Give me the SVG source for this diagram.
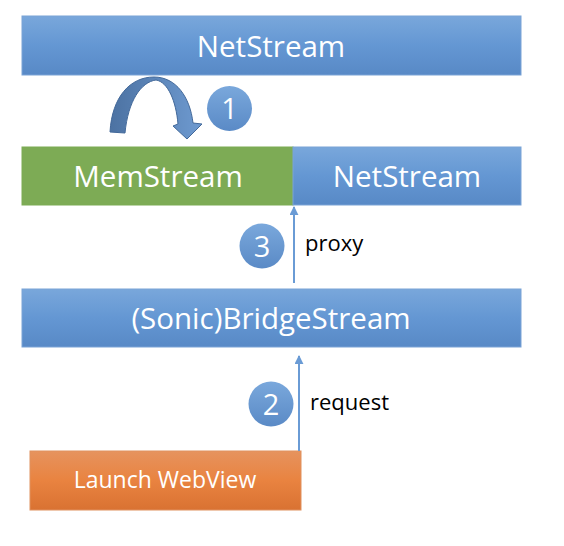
<svg xmlns="http://www.w3.org/2000/svg" width="564" height="546" viewBox="0 0 564 546">
<defs>
<linearGradient id="gBlue" x1="0" y1="0" x2="0" y2="1"><stop offset="0" stop-color="#79a7db"/><stop offset="0.5" stop-color="#6497d3"/><stop offset="1" stop-color="#5889c6"/></linearGradient>
<linearGradient id="gOrange" x1="0" y1="0" x2="0" y2="1"><stop offset="0" stop-color="#e6935e"/><stop offset="0.5" stop-color="#e98340"/><stop offset="1" stop-color="#d97232"/></linearGradient>
<linearGradient id="gCircle" x1="0" y1="0" x2="0" y2="1"><stop offset="0" stop-color="#7aa8dc"/><stop offset="1" stop-color="#5a8ac6"/></linearGradient>
<linearGradient id="gArc" x1="0" y1="0" x2="1" y2="0"><stop offset="0" stop-color="#4c72a2"/><stop offset="1" stop-color="#6e9ad0"/></linearGradient>
<marker id="ah" viewBox="0 0 10 10" refX="9" refY="5" markerWidth="4.5" markerHeight="4.5" orient="auto"><path d="M0,0 L10,5 L0,10 Z" fill="#6a9bd5"/></marker>
</defs>
<style>
.box{stroke:#7aa3d6;stroke-width:1}
.lbl{font-family:"Open Sans","Noto Sans",sans-serif;fill:#ffffff;text-anchor:middle;dominant-baseline:central}
.big{font-size:29.5px}
.num{font-family:"Open Sans","Noto Sans",sans-serif;fill:#ffffff;font-size:29px;text-anchor:middle;dominant-baseline:central}
.side{font-family:"Open Sans","Noto Sans",sans-serif;fill:#000000;font-size:22px}
.conn{stroke:#6a9bd5;stroke-width:2;fill:none}
</style>
<rect width="564" height="546" fill="#ffffff"/>
<g id="netstream-top"><rect class="box" x="22" y="16" width="499" height="59" fill="url(#gBlue)"/><text class="lbl big" x="271" y="45">NetStream</text></g>
<g id="memstream"><rect x="22" y="147" width="271" height="58" fill="#7dab55" stroke="#7dab55"/><text class="lbl big" x="158" y="175">MemStream</text></g>
<g id="netstream-right"><rect class="box" x="293" y="147" width="228" height="58" fill="url(#gBlue)"/><text class="lbl big" x="407" y="175">NetStream</text></g>
<g id="bridgestream"><rect class="box" x="22" y="289" width="499" height="58" fill="url(#gBlue)"/><text class="lbl big" x="271" y="317">(Sonic)BridgeStream</text></g>
<g id="launch-webview"><rect x="30" y="451" width="271" height="59" fill="url(#gOrange)" stroke="#e0915f"/><text class="lbl" style="font-size:23px" x="165" y="479">Launch WebView</text></g>
<g id="step1"><circle cx="229.5" cy="108.5" r="22.5" fill="url(#gCircle)"/><text class="num" x="229.5" y="107">1</text></g>
<g id="step3"><circle cx="262" cy="246" r="22.5" fill="url(#gCircle)"/><text class="num" x="262" y="245">3</text></g>
<g id="step2"><circle cx="271" cy="404" r="22.5" fill="url(#gCircle)"/><text class="num" x="271" y="403">2</text></g>
<g id="connectors">
<path d="M110,132 C112,97 130,77 154,77 C176,77 190,97 193,123 L202,124 L187,139 L173,126 L178,124 C176,101 168,82 156,80 C141,82 128,101 125,133 Z" fill="url(#gArc)" stroke="#43699a" stroke-width="1"/>
<line class="conn" x1="294" y1="283" x2="294" y2="207" marker-end="url(#ah)"/>
<line class="conn" x1="299" y1="451" x2="299" y2="356" marker-end="url(#ah)"/>
<text class="side" x="305" y="251">proxy</text>
<text class="side" x="310" y="410">request</text>
</g>
</svg>
